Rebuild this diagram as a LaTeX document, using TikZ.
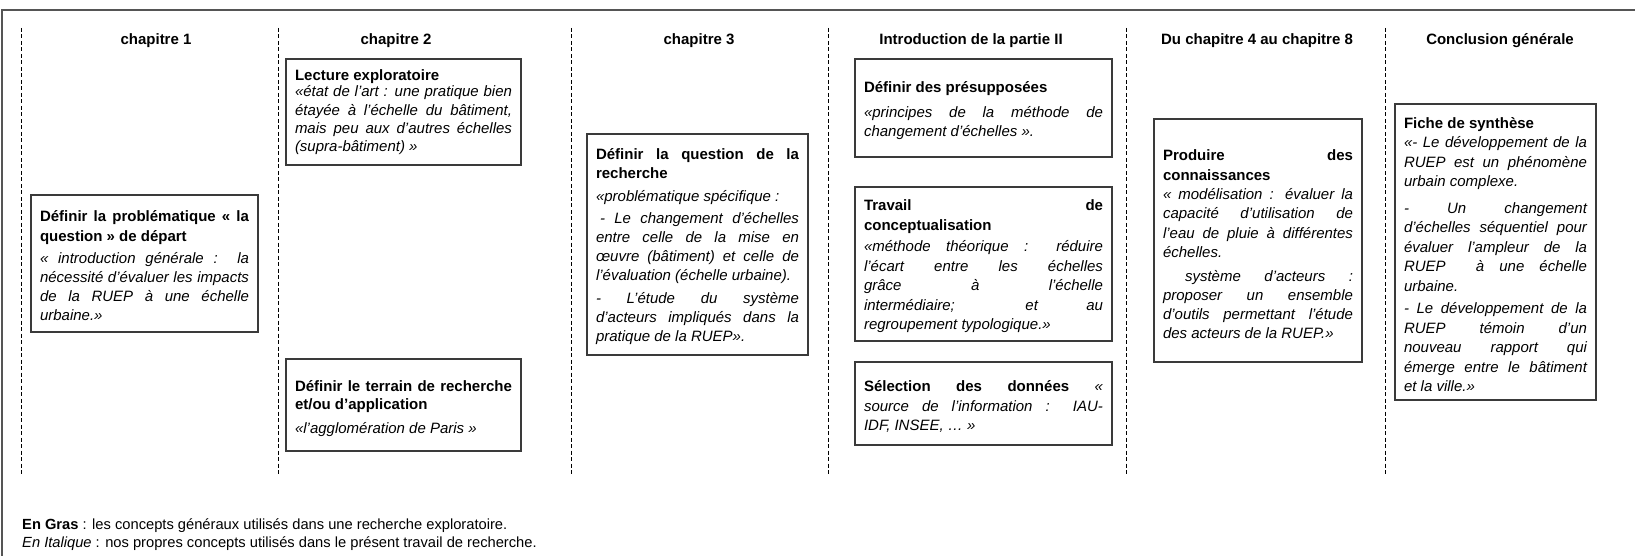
\documentclass[tikz,border=0pt]{standalone}
\usepackage{fontspec}
\setmainfont{Liberation Sans}
\definecolor{boxgray}{HTML}{3A3A3A}
\definecolor{framegray}{HTML}{555555}
\newcommand\bodyfont[1]{\fontsize{15}{#1}\selectfont\parindent=0pt\hyphenpenalty=10000\exhyphenpenalty=10000\tolerance=10000\hbadness=10000}
\newcommand\gap[1]{\par\vspace{#1}}
\newcommand\dn[1]{\rule{0pt}{#1}}
\tikzset{
  box/.style={draw=boxgray, line width=1.1pt, inner xsep=9pt, inner ysep=0pt, align=justify, font=\bodyfont{19.2}},
  head/.style={font=\fontsize{15}{18}\selectfont\bfseries, inner sep=0pt, anchor=base},
  legend/.style={font=\fontsize{14.7}{18}\selectfont, inner sep=0pt, anchor=base west},
  sepline/.style={draw=black, line width=0.8pt, dash pattern=on 4pt off 2.5pt},
  frame/.style={draw=framegray, line width=1.5pt},
}
\begin{document}
\begin{tikzpicture}[x=1pt,y=-1pt]
\useasboundingbox[fill=white] (0,0) rectangle (1635,556);
% outer frame (open on right and bottom)
\draw[frame] (2,556) -- (2,10) -- (1635,10);
% column separators
\foreach \xx in {21,278,571,828,1126,1385}{
  \draw[sepline] (\xx,28) -- (\xx,475);
}
% headers
\node[head] (h1) at (156,45) {chapitre 1};
\node[head] (h2) at (396,45) {chapitre 2};
\node[head] (h3) at (699,45) {chapitre 3};
\node[head] (h4) at (971,45) {Introduction de la partie II};
\node[head] (h5) at (1257,45) {Du chapitre 4 au chapitre 8};
\node[head] (h6) at (1500,45) {Conclusion générale};

% chapitre 1
\node[box, text width=209pt, minimum height=137pt] (a) at (144.5,263.5) {%
\dn{16pt}\textbf{Définir la problématique « la\linebreak question » de départ}\gap{3pt}
\itshape « introduction générale :\ \ la\linebreak nécessité d’évaluer les impacts\linebreak de la RUEP à une échelle\linebreak urbaine.»};

% chapitre 2
\node[box, font=\bodyfont{18.3}, text width=217pt, minimum height=106pt] (b) at (403.5,112) {%
\textbf{Lecture exploratoire}\gap{-1.5pt}
\itshape «état de l’art : une pratique bien\linebreak étayée à l’échelle du bâtiment,\linebreak mais peu aux d’autres échelles\linebreak (supra-bâtiment) »};

\node[box, font=\bodyfont{18}, text width=217pt, minimum height=92pt] (c) at (403.5,405) {%
\dn{19pt}\textbf{Définir le terrain de recherche\linebreak et/ou d’application}\gap{6pt}
\itshape «l’agglomération de Paris »};

% chapitre 3
\node[box, font=\bodyfont{19}, text width=203pt, minimum height=221pt] (d) at (697.5,244.5) {%
\dn{16pt}\textbf{Définir la question de la\linebreak recherche}\gap{4pt}
\itshape «problématique spécifique :\gap{3pt}
\hspace*{4pt}- Le changement d’échelles\linebreak entre celle de la mise en\linebreak œuvre (bâtiment) et celle de\linebreak l’évaluation (échelle urbaine).\gap{4pt}
- L’étude du système\linebreak d’acteurs impliqués dans la\linebreak pratique de la RUEP».};

% introduction de la partie II
\node[box, font=\bodyfont{19}, text width=239pt, minimum height=98pt] (e) at (983.5,108) {%
\dn{16pt}\textbf{Définir des présupposées}\gap{5.7pt}
\itshape «principes de la méthode de\linebreak changement d’échelles ».};

\node[box, font=\bodyfont{19.5}, text width=239pt, minimum height=154pt] (f) at (983.5,264) {%
\dn{16pt}\textbf{Travail de\linebreak conceptualisation}\gap{2pt}
\itshape «méthode théorique : réduire\linebreak l’écart entre les échelles\linebreak grâce à l’échelle\linebreak intermédiaire; et au\linebreak regroupement typologique.»};

\node[box, font=\bodyfont{19.5}, text width=239pt, minimum height=83pt] (g) at (983.5,403.5) {%
\dn{17pt}\textbf{Sélection des données} \textit{«\linebreak source de l’information : IAU-\linebreak IDF, INSEE, … »}};

% du chapitre 4 au chapitre 8
\node[box, font=\bodyfont{19.3}, text width=190pt, minimum height=243pt] (h) at (1258,240.5) {%
\dn{19pt}\textbf{Produire des\linebreak connaissances}\par
\itshape « modélisation : évaluer la\linebreak capacité d’utilisation de\linebreak l’eau de pluie à différentes\linebreak échelles.\gap{4.4pt}
\hspace*{22pt}système d’acteurs :\linebreak proposer un ensemble\linebreak d’outils permettant l’étude\linebreak des acteurs de la RUEP.»};

% conclusion generale
\node[box, font=\bodyfont{19.5}, text width=183pt, minimum height=296pt] (i) at (1495.5,252) {%
\dn{17pt}\textbf{Fiche de synthèse}\gap{-0.5pt}
\itshape «- Le développement de la\linebreak RUEP est un phénomène\linebreak urbain complexe.\gap{7pt}
- Un changement\linebreak d’échelles séquentiel pour\linebreak évaluer l’ampleur de la\linebreak RUEP\ \ à une échelle\linebreak urbaine.\gap{3pt}
- Le développement de la\linebreak RUEP témoin d’un\linebreak nouveau rapport qui\linebreak émerge entre le bâtiment\linebreak et la ville.»};

% legend
\node[legend] (l1) at (22,529) {\textbf{En Gras} : les concepts généraux utilisés dans une recherche exploratoire.};
\node[legend] (l2) at (22,547) {\textit{En Italique} : nos propres concepts utilisés dans le présent travail de recherche.};
\end{tikzpicture}
\end{document}
